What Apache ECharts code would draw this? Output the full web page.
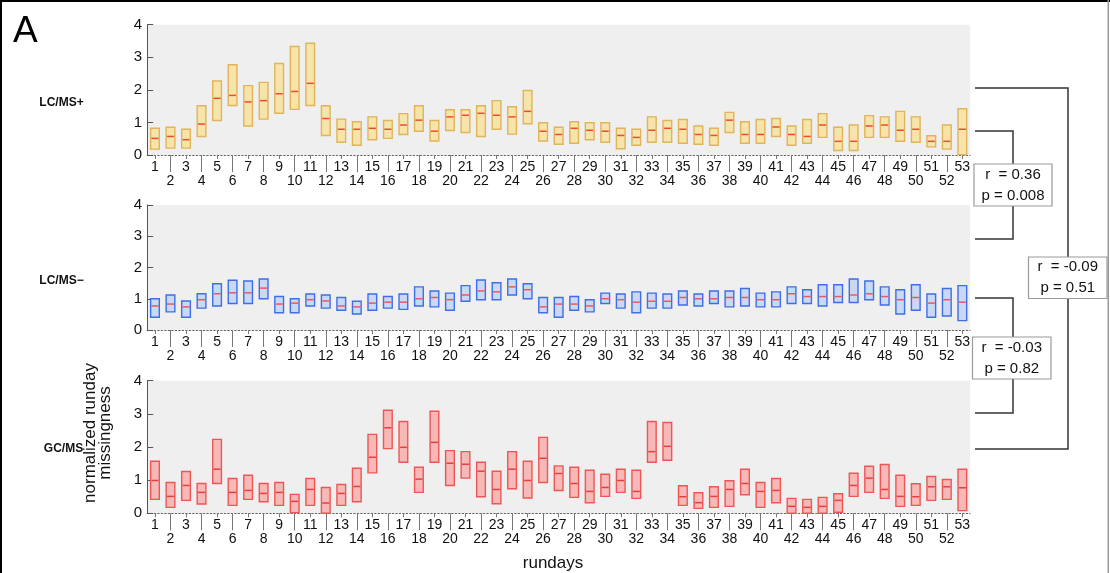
<!DOCTYPE html>
<html>
<head>
<meta charset="utf-8">
<title>Runday missingness</title>
<script src="https://cdn.jsdelivr.net/npm/echarts@6/dist/echarts.min.js"></script>
<style>
  html, body { margin: 0; padding: 0; background: #fff; }
  #chart { width: 1110px; height: 573px; }
</style>
</head>
<body>
<div id="chart"></div>
<script>
// Run days 1..53
const rundays = Array.from({ length: 53 }, (_, i) => String(i + 1));
const yTicks = [0, 1, 2, 3, 4];

// LC/MS+ : lower quartile, median, upper quartile
const posQ1 = [0.18,0.21,0.21,0.57,1.06,1.52,0.89,1.10,1.28,1.40,1.52,0.60,0.39,0.30,0.47,0.51,0.63,0.73,0.43,0.75,0.69,0.57,0.79,0.64,0.96,
               0.43,0.33,0.36,0.47,0.39,0.19,0.30,0.39,0.39,0.36,0.33,0.30,0.69,0.36,0.36,0.57,0.30,0.36,0.54,0.14,0.14,0.54,0.54,0.42,0.39,0.25,0.18,0.01];
const posMed = [0.51,0.57,0.47,0.95,1.74,1.83,1.63,1.67,1.88,1.95,2.20,1.12,0.79,0.79,0.82,0.79,0.92,1.07,0.73,1.17,1.22,1.28,1.22,1.17,1.34,
               0.73,0.63,0.82,0.76,0.73,0.60,0.54,0.76,0.82,0.79,0.63,0.60,1.07,0.63,0.63,0.86,0.63,0.57,0.92,0.42,0.42,0.89,0.92,0.76,0.79,0.42,0.42,0.79];
const posQ3 = [0.82,0.85,0.79,1.51,2.27,2.77,2.13,2.23,2.81,3.33,3.43,1.51,1.10,1.02,1.17,1.06,1.27,1.51,1.06,1.39,1.39,1.51,1.67,1.48,1.98,
               0.99,0.85,1.02,0.99,0.99,0.82,0.79,1.17,1.06,1.09,0.89,0.82,1.31,1.02,1.09,1.12,0.89,1.09,1.27,0.85,0.92,1.21,1.17,1.34,1.17,0.59,0.92,1.42];

// LC/MS− : lower quartile, median, upper quartile
const negQ1 = [0.41,0.58,0.41,0.70,0.77,0.85,0.85,1.00,0.55,0.55,0.77,0.70,0.63,0.51,0.63,0.70,0.66,0.77,0.74,0.63,0.92,0.97,0.97,1.12,1.00,
               0.55,0.41,0.63,0.58,0.85,0.70,0.55,0.70,0.70,0.80,0.77,0.85,0.74,0.77,0.74,0.74,0.85,0.85,0.77,0.88,0.88,0.97,0.80,0.51,0.63,0.41,0.45,0.30];
const negMed = [0.77,0.83,0.74,0.97,1.16,1.19,1.19,1.34,0.83,0.86,0.97,0.93,0.77,0.74,0.86,0.89,0.89,1.00,1.04,0.97,1.12,1.25,1.22,1.38,1.29,
               0.74,0.83,0.83,0.77,1.00,0.97,0.89,0.92,0.92,1.04,1.00,1.00,1.04,1.04,0.97,0.97,1.16,1.07,1.07,1.07,1.12,1.16,1.07,0.97,1.04,0.86,0.97,0.89];
const negQ3 = [1.00,1.12,0.93,1.16,1.48,1.59,1.57,1.63,1.07,1.00,1.15,1.12,1.04,0.92,1.15,1.07,1.15,1.38,1.25,1.18,1.42,1.60,1.51,1.63,1.48,
               1.04,1.04,1.07,0.97,1.18,1.15,1.22,1.18,1.15,1.25,1.15,1.25,1.25,1.33,1.18,1.22,1.38,1.29,1.45,1.45,1.63,1.57,1.38,1.29,1.45,1.15,1.33,1.42];

// GC/MS : lower quartile, median, upper quartile
const gcQ1 = [0.42,0.18,0.39,0.28,0.90,0.24,0.42,0.35,0.24,0.02,0.24,0.00,0.24,0.35,1.22,1.95,1.54,0.63,1.54,0.84,1.06,0.50,0.29,0.74,0.46,
              0.93,0.69,0.48,0.32,0.51,0.63,0.45,1.54,1.60,0.24,0.15,0.18,0.21,0.56,0.18,0.32,0.00,0.00,0.00,0.03,0.51,0.63,0.45,0.21,0.24,0.39,0.42,0.08];
const gcMed = [0.99,0.51,0.84,0.63,1.33,0.63,0.69,0.60,0.63,0.36,0.72,0.31,0.60,0.81,1.69,2.58,1.99,1.03,2.14,1.51,1.48,1.27,0.72,1.33,0.99,
              1.66,1.20,0.90,0.66,0.78,0.99,0.66,1.86,2.02,0.50,0.32,0.51,0.72,0.90,0.66,0.69,0.21,0.18,0.21,0.39,0.84,1.06,0.72,0.51,0.50,0.80,0.80,0.77];
const gcQ3 = [1.57,0.93,1.26,0.90,2.23,1.05,1.15,0.90,0.93,0.57,1.05,0.78,0.87,1.36,2.38,3.11,2.77,1.39,3.08,1.89,1.86,1.54,1.27,1.86,1.57,
              2.29,1.43,1.39,1.30,1.18,1.33,1.30,2.77,2.74,0.83,0.62,0.80,0.98,1.33,0.93,1.05,0.45,0.42,0.48,0.59,1.21,1.42,1.47,1.15,0.89,1.11,1.02,1.33];

const FONT = 'Liberation Sans, Arial, Helvetica, sans-serif';

const panels = [
  { top: 24.7, height: 130.3, q1: posQ1, med: posMed, q3: posQ3,
    fill: '#f6e4ab', stroke: '#e0b459', medColor: '#f2492f' },
  { top: 205, height: 125, q1: negQ1, med: negMed, q3: negQ3,
    fill: '#c9d8f3', stroke: '#3e6ee8', medColor: '#f0575a' },
  { top: 380.7, height: 132.6, q1: gcQ1, med: gcMed, q3: gcQ3,
    fill: '#f7b8b8', stroke: '#ee5656', medColor: '#e54040' }
];

function boxRenderer(p) {
  return function (params, api) {
    const i = api.value(0);
    const lo = api.coord([i, api.value(1)]);
    const md = api.coord([i, api.value(2)]);
    const hi = api.coord([i, api.value(3)]);
    const w = api.size([1, 0])[0] * 0.56;
    const x0 = lo[0] - w / 2;
    return {
      type: 'group',
      children: [
        { type: 'rect',
          shape: { x: x0, y: hi[1], width: w, height: lo[1] - hi[1] },
          style: { fill: p.fill, stroke: p.stroke, lineWidth: 1.4 } },
        { type: 'line',
          shape: { x1: x0 + 0.8, y1: md[1], x2: x0 + w - 0.8, y2: md[1] },
          style: { stroke: p.medColor, lineWidth: 1.5 } }
      ]
    };
  };
}

const grids = [], xAxes = [], yAxes = [], series = [];
panels.forEach((p, k) => {
  grids.push({ left: 147.2, right: 139.9, top: p.top, height: p.height,
               show: true, backgroundColor: '#efefef', borderWidth: 0 });
  // odd run days: first label row, short ticks
  xAxes.push({
    type: 'category', gridIndex: k, data: rundays, position: 'bottom',
    axisLine: { show: true, lineStyle: { color: '#666', type: [1.5, 2], width: 1 } },
    axisTick: { show: true, alignWithLabel: true, length: 4,
                interval: (i) => i % 2 === 0, lineStyle: { color: '#777' } },
    axisLabel: { interval: (i) => i % 2 === 0, margin: 5, fontSize: 14,
                 color: '#111', fontFamily: FONT },
    splitLine: { show: false }
  });
  // even run days: second label row, long ticks
  xAxes.push({
    type: 'category', gridIndex: k, data: rundays, position: 'bottom',
    axisLine: { show: false },
    axisTick: { show: true, alignWithLabel: true, length: 17,
                interval: (i) => i % 2 === 1, lineStyle: { color: '#777' } },
    axisLabel: { interval: (i) => i % 2 === 1, margin: 19, fontSize: 14,
                 color: '#111', fontFamily: FONT },
    splitLine: { show: false }
  });
  yAxes.push({
    type: 'value', gridIndex: k, min: 0, max: 4, interval: 1,
    axisLine: { show: true, lineStyle: { color: '#555', width: 1 } },
    axisTick: { show: true, inside: true, length: 6, lineStyle: { color: '#555' } },
    axisLabel: { margin: 5, fontSize: 15, color: '#111', fontFamily: FONT,
                 formatter: (v) => String(yTicks[yTicks.indexOf(v)]) },
    splitLine: { show: false }
  });
  series.push({
    type: 'custom', xAxisIndex: k * 2, yAxisIndex: k,
    renderItem: boxRenderer(p),
    encode: { x: 0, y: [1, 2, 3] },
    data: rundays.map((d, i) => [i, p.q1[i], p.med[i], p.q3[i]]),
    silent: true, animation: false
  });
});

const lineStyle = { stroke: '#333', lineWidth: 1.5, fill: null };
function statBox(x, y, w, h, lines) {
  return {
    type: 'group', x: x, y: y, z: 20,
    children: [
      { type: 'rect', shape: { x: 0, y: 0, width: w, height: h },
        style: { fill: '#fff', stroke: '#9a9a9a', lineWidth: 1.2 } },
      { type: 'text', x: w / 2, y: h / 2,
        style: { text: lines.join('\n'), font: '15px ' + FONT, fill: '#111',
                 align: 'center', verticalAlign: 'middle', lineHeight: 21 } }
    ]
  };
}

const graphics = [
  // panel frame
  { type: 'rect', shape: { x: 0, y: 0, width: 1110, height: 2 }, style: { fill: '#000' } },
  { type: 'rect', shape: { x: 0, y: 0, width: 2, height: 573 }, style: { fill: '#000' } },
  { type: 'rect', shape: { x: 1107.5, y: 0, width: 1.5, height: 573 }, style: { fill: '#999' } },
  { type: 'text', x: 13, y: 13, style: { text: 'A', font: '37px ' + FONT, fill: '#000' } },
  { type: 'text', x: 61.5, y: 103, style: { text: 'LC/MS+', font: 'bold 12px ' + FONT, fill: '#111',
      align: 'center', verticalAlign: 'middle' } },
  { type: 'text', x: 61.5, y: 281, style: { text: 'LC/MS\u2212', font: 'bold 12px ' + FONT, fill: '#111',
      align: 'center', verticalAlign: 'middle' } },
  { type: 'text', x: 63.5, y: 449, style: { text: 'GC/MS', font: 'bold 12px ' + FONT, fill: '#111',
      align: 'center', verticalAlign: 'middle' } },
  { type: 'text', x: 98, y: 433, rotation: Math.PI / 2,
    style: { text: 'normalized runday\nmissingness', font: '17px ' + FONT, fill: '#111',
             align: 'center', verticalAlign: 'middle', lineHeight: 15 } },
  { type: 'text', x: 553, y: 563, style: { text: 'rundays', font: '17px ' + FONT, fill: '#111',
      align: 'center', verticalAlign: 'middle' } },
  // correlation brackets
  { type: 'polyline', shape: { points: [[975, 88], [1068, 88], [1068, 449], [975, 449]] }, style: lineStyle },
  { type: 'polyline', shape: { points: [[975, 131], [1013, 131], [1013, 239], [975, 239]] }, style: lineStyle },
  { type: 'polyline', shape: { points: [[975, 298], [1013, 298], [1013, 413], [975, 413]] }, style: lineStyle },
  statBox(974, 164, 78, 42, ['r  = 0.36', 'p = 0.008']),
  statBox(1028.5, 257, 78.5, 41.5, ['r  = -0.09', 'p = 0.51']),
  statBox(972.5, 337, 78.5, 42, ['r  = -0.03', 'p = 0.82'])
];

const chart = echarts.init(document.getElementById('chart'), null, { renderer: 'canvas' });
chart.setOption({
  animation: false,
  backgroundColor: '#fff',
  textStyle: { fontFamily: FONT },
  grid: grids,
  xAxis: xAxes,
  yAxis: yAxes,
  series: series,
  graphic: graphics
});
</script>
</body>
</html>
